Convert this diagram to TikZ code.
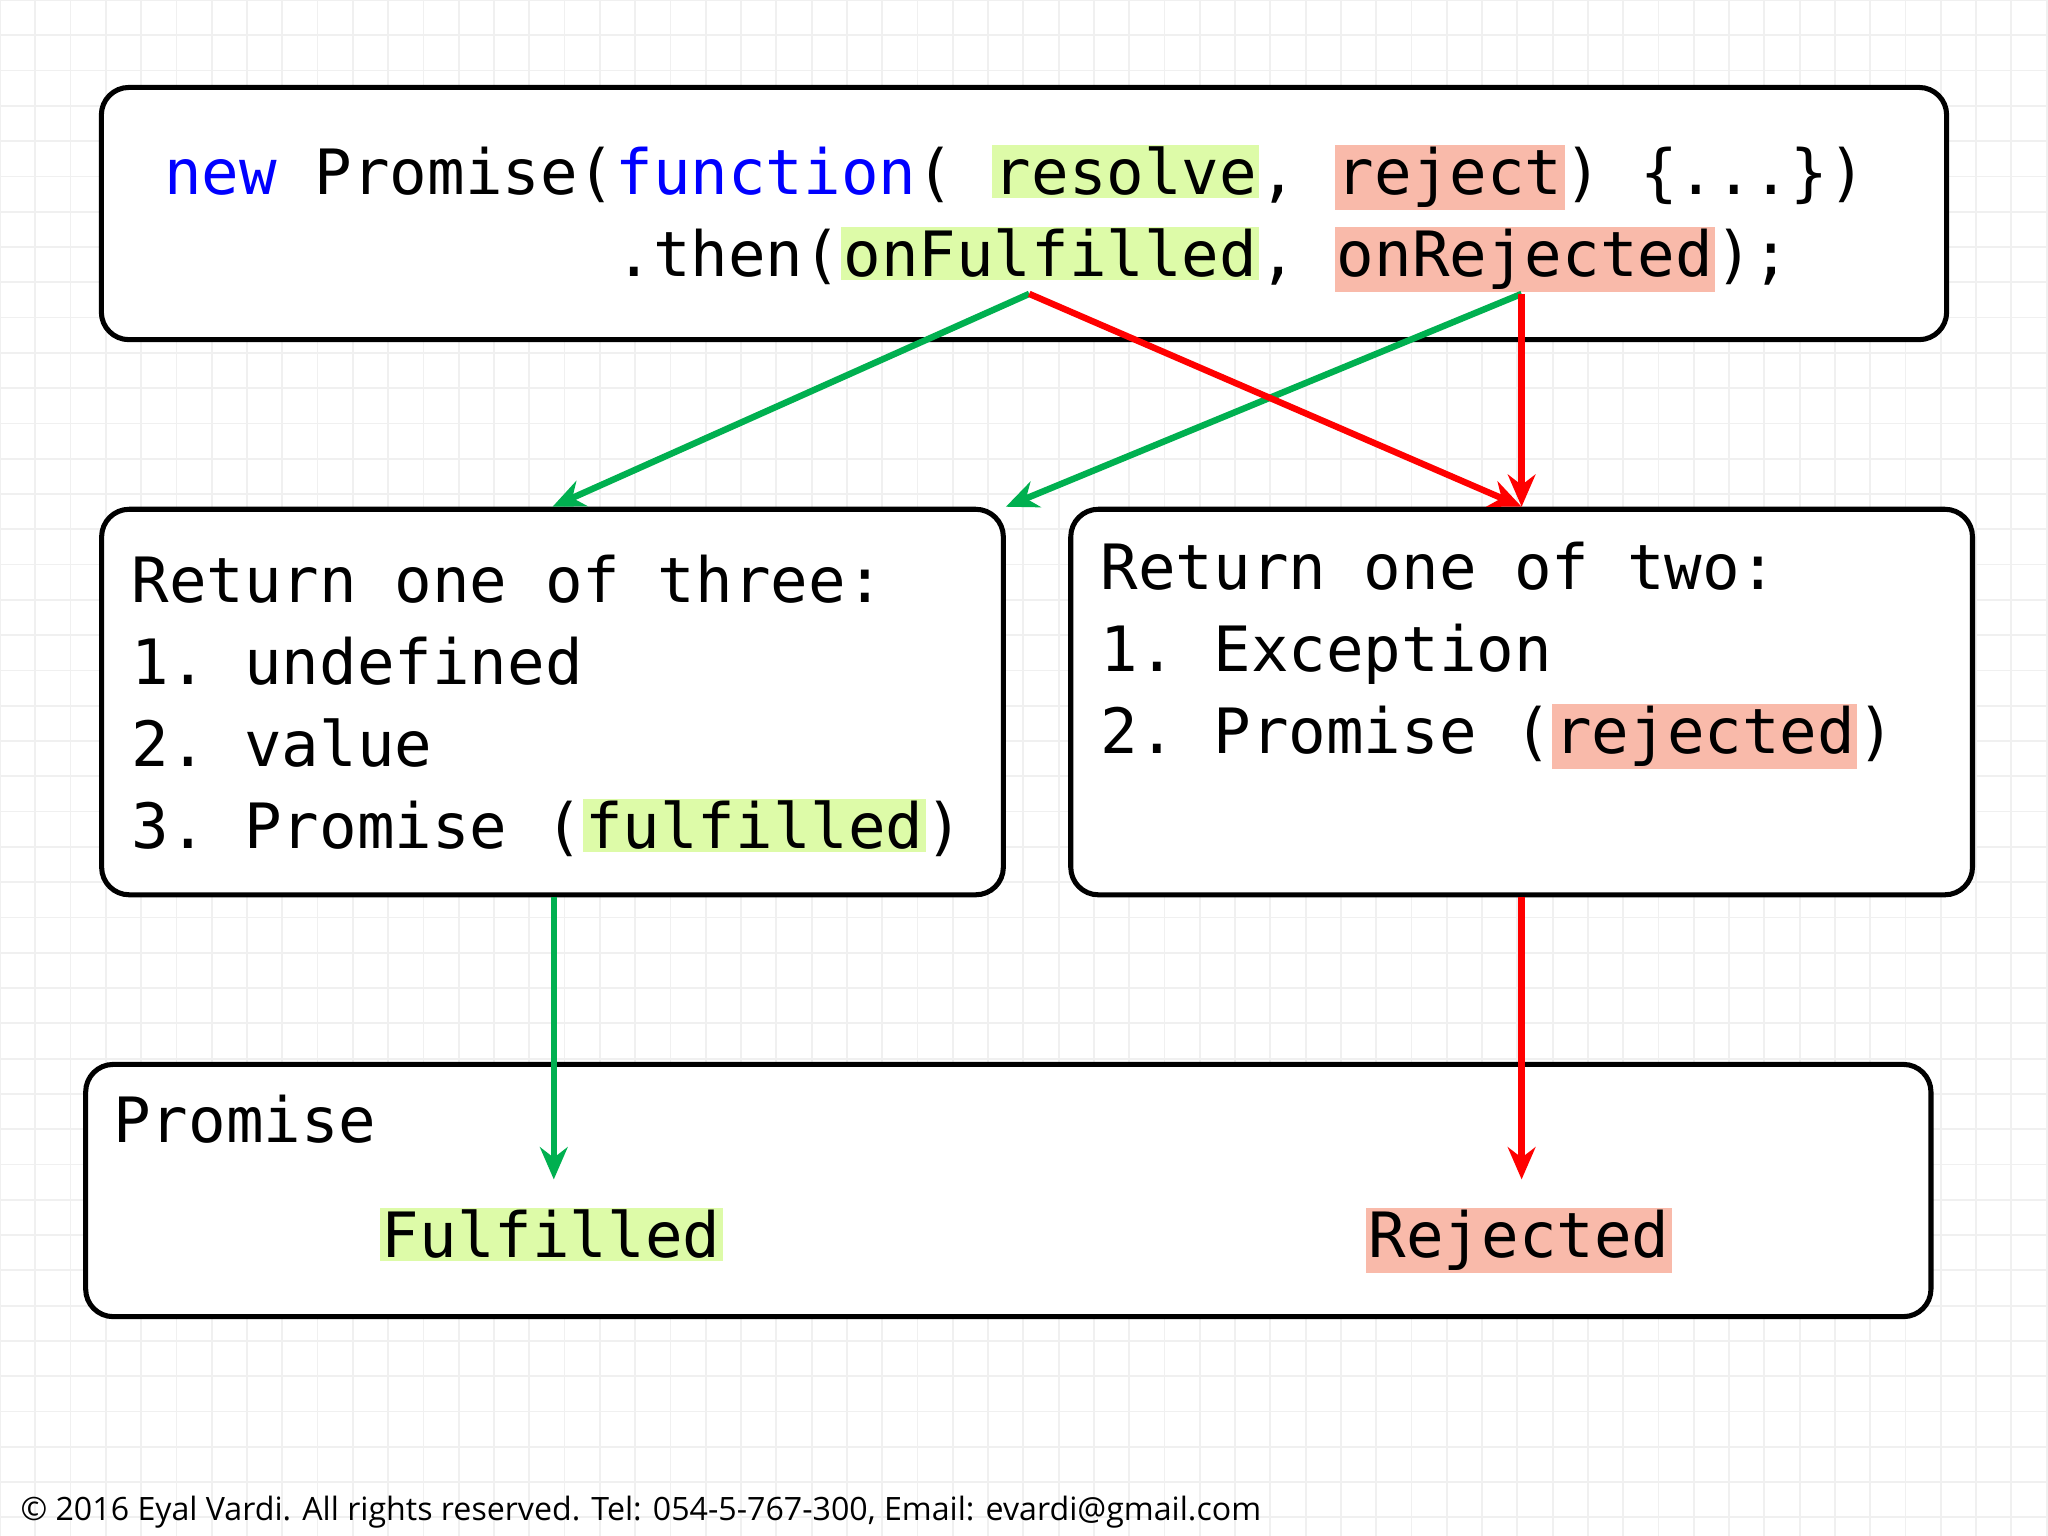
\documentclass[tikz,border=0pt]{standalone}
\usepackage{fontspec}
\setmonofont{DejaVu Sans Mono}
\setsansfont{Open Sans}
\usetikzlibrary{arrows.meta}
\definecolor{kwblue}{HTML}{0000FF}
\definecolor{okgreen}{HTML}{00B050}
\definecolor{badred}{HTML}{FF0000}
\definecolor{hlgreen}{HTML}{DDFBA8}
\definecolor{hlred}{HTML}{F9BAAA}
\setlength{\fboxsep}{0.5pt}
\newcommand{\hg}[1]{\colorbox{hlgreen}{#1}}
\newcommand{\hr}[1]{\colorbox{hlred}{#1}}
\begin{document}
\begin{tikzpicture}[x=0.01cm,y=-0.01cm,
  box/.style={draw,rounded corners=6pt,line width=1.1pt,fill=white},
  code/.style={font=\ttfamily\fontsize{13.6}{17.9}\selectfont,align=left,inner sep=0pt,anchor=north west},
  ok/.style={okgreen,line width=1.4pt,-{Stealth[length=7pt,width=6pt]}},
  bad/.style={badred,line width=1.4pt,-{Stealth[length=7pt,width=6pt]}}]

  \useasboundingbox (0,0) rectangle (1568,1176);
  \fill[white] (0,0) rectangle (1568,1176);
  \draw[black!6,step=0.27cm] (0,0) grid (1568,1176);

  \node[box,minimum width=14.12cm,minimum height=1.93cm] (top) at (784,163.5) {};
  \node[box,minimum width=6.90cm,minimum height=2.95cm] (left) at (423,537.5) {};
  \node[box,minimum width=6.90cm,minimum height=2.95cm] (right) at (1165,537.5) {};
  \node[box,minimum width=14.12cm,minimum height=1.93cm] (bottom) at (772,911.5) {};

  \node[code] (src) at (125,110) {\textcolor{kwblue}{new} Promise(\textcolor{kwblue}{function}( \hg{resolve}, \hr{reject}) \{...\})\\
    \phantom{xxxxxxxxxxxx}.then(\hg{onFulfilled}, \hr{onRejected});};
  \node[code] (three) at (100,424) {Return one of three:\\1. undefined\\2. value\\3. Promise (\hg{fulfilled})};
  \node[code] (two) at (842,414) {Return one of two:\\1. Exception\\2. Promise (\hr{rejected})};
  \node[code] (prom) at (86,838) {Promise};
  \node[code,anchor=base] (ftext) at (422,963) {\hg{Fulfilled}};
  \node[code,anchor=base] (rtext) at (1163,963) {\hr{Rejected}};

  \coordinate (ful) at (788,225);
  \coordinate (rej) at (1165,225);
  \coordinate (fend) at (424,903);
  \coordinate (rend) at (1165,903);

  \draw[ok] (ful) -- (left.north);
  \draw[ok] (rej) -- (left.north east);
  \draw[bad] (ful) -- (right.north);
  \draw[bad] (rej) -- (right.north);
  \draw[ok] (left.south -| fend) -- (fend);
  \draw[bad] (right.south) -- (rend);

  \node[font=\sffamily\fontsize{7}{8.5}\selectfont,anchor=west,inner sep=0pt] (copy) at (15,1158)
    {© 2016 Eyal Vardi. All rights reserved. Tel: 054-5-767-300, Email: evardi@gmail.com};
\end{tikzpicture}
\end{document}
